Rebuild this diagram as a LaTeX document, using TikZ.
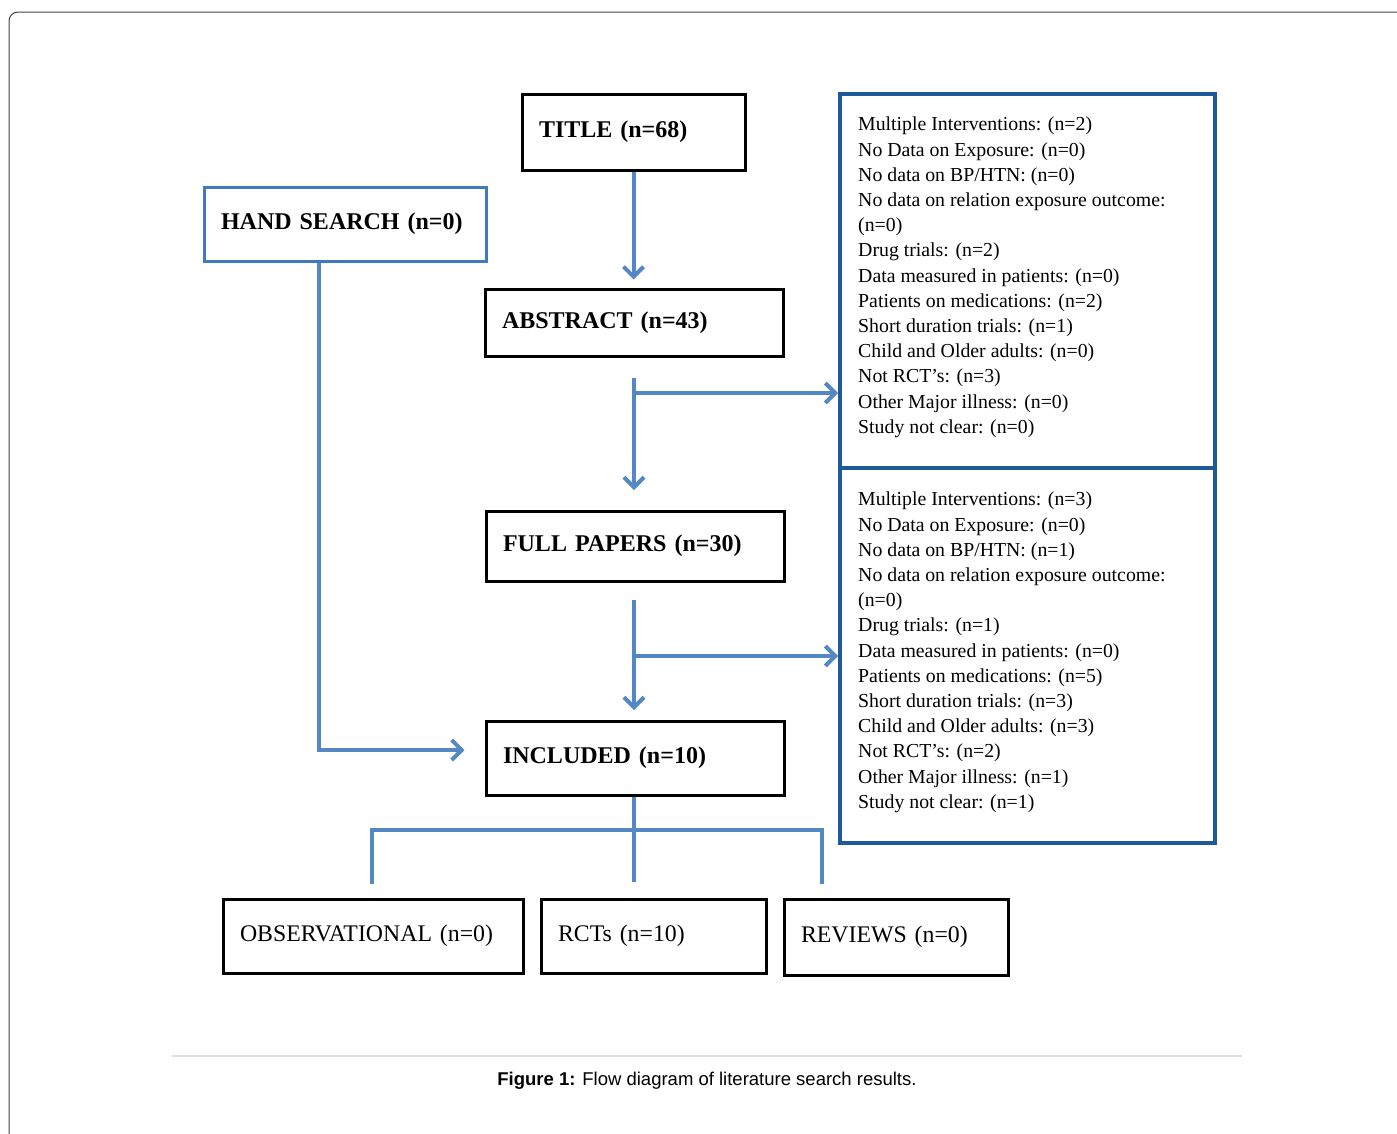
\documentclass[tikz,border=0pt]{standalone}
\usepackage{fontspec}
\setmainfont{Liberation Serif}
\newfontfamily\captionfont{Liberation Sans}
\usetikzlibrary{arrows.meta,calc}
\definecolor{arrow-blue}{RGB}{84,136,196}
\definecolor{frame-blue}{RGB}{30,90,155}
\definecolor{hand-blue}{RGB}{62,122,188}
\tikzstyle{stagebox}=[draw=black, line width=3pt, align=left, inner xsep=17pt, font=\fontsize{24}{28}\selectfont\bfseries]
\tikzstyle{studybox}=[stagebox, font=\fontsize{23.8}{28}\selectfont]
\tikzstyle{exclbox}=[draw=frame-blue, line width=3.8pt]
\tikzstyle{flowline}=[draw=arrow-blue, line width=4pt]
\tikzstyle{flowarrow}=[flowline, -{Straight Barb[length=10pt, width=20pt, line width=4pt]}]
\newcommand{\exclusionlist}[2]{
  \node[anchor=north west, align=left, inner sep=0pt,
        font=\fontsize{19.8}{25.2}\selectfont] at (#1) {#2};
}
\begin{document}
\begin{tikzpicture}[x=1pt,y=-1pt]
  \clip (0,0) rectangle (1397,1133);
  \useasboundingbox (0,0) rectangle (1397,1133);
  % page frame and caption
  \draw[black!75, line width=1pt, rounded corners=9pt] (9,12) rectangle (1430,1170);
  \draw[black!12, line width=1.5pt] (172,1056) -- (1242,1056);
  \node[font=\captionfont\fontsize{18.5}{22}\selectfont] (caption) at (707,1081)
    {\textbf{Figure 1:} Flow diagram of literature search results.};
  % stages
  \node[stagebox, text width=189pt, minimum height=76pt] (title) at (633.5,132) {TITLE (n=68)};
  \node[stagebox, draw=hand-blue, text width=248pt, minimum height=74pt] (hand) at (345,224) {HAND SEARCH (n=0)};
  \node[stagebox, text width=264pt, minimum height=67pt] (abstract) at (634,322.5) {ABSTRACT (n=43)};
  \node[stagebox, text width=264pt, minimum height=70pt] (full) at (635,546) {FULL PAPERS (n=30)};
  \node[stagebox, text width=264pt, minimum height=74pt] (included) at (635,758) {INCLUDED (n=10)};
  \node[studybox, text width=266pt, minimum height=74pt] (observational) at (373,936) {OBSERVATIONAL (n=0)};
  \node[studybox, text width=191pt, minimum height=74pt] (rcts) at (653.5,936) {RCTs (n=10)};
  \node[studybox, text width=190pt, minimum height=76pt] (reviews) at (896,937) {REVIEWS (n=0)};
  % exclusions
  \node[exclbox, minimum width=375pt, minimum height=374pt] (excltop) at (1027.5,281) {};
  \node[exclbox, minimum width=375pt, minimum height=375pt] (exclbottom) at (1027.5,655.5) {};
  \exclusionlist{858,117}{Multiple Interventions: (n=2)\\ No Data on Exposure: (n=0)\\
    No data on BP/HTN: (n=0)\\ No data on relation exposure outcome:\\ (n=0)\\
    Drug trials: (n=2)\\ Data measured in patients: (n=0)\\ Patients on medications: (n=2)\\
    Short duration trials: (n=1)\\ Child and Older adults: (n=0)\\ Not RCT’s: (n=3)\\
    Other Major illness: (n=0)\\ Study not clear: (n=0)}
  \exclusionlist{858,492}{Multiple Interventions: (n=3)\\ No Data on Exposure: (n=0)\\
    No data on BP/HTN: (n=1)\\ No data on relation exposure outcome:\\ (n=0)\\
    Drug trials: (n=1)\\ Data measured in patients: (n=0)\\ Patients on medications: (n=5)\\
    Short duration trials: (n=3)\\ Child and Older adults: (n=3)\\ Not RCT’s: (n=2)\\
    Other Major illness: (n=1)\\ Study not clear: (n=1)}
  % connectors
  \draw[flowarrow, shorten >=8pt] (title.south) -- (title.south |- abstract.north);
  \coordinate (absjoin) at (634,393);
  \coordinate (fulljoin) at (634,656);
  \draw[flowarrow] (634,378) -- (634,490);
  \draw[flowarrow] (absjoin) -- (absjoin -| excltop.west);
  \draw[flowarrow] (634,600) -- (634,710);
  \draw[flowarrow] (fulljoin) -- (fulljoin -| exclbottom.west);
  \coordinate (handturn) at (319,750);
  \draw[flowarrow] (hand.south -| handturn) -- (handturn) -- ($(handturn -| included.west)+(-20,0)$);
  \coordinate (split) at (634,830);
  \draw[flowline] (included.south -| split) -- ($(split)+(0,52)$);
  \draw[flowline] ($(observational.north)+(-1,-14)$) |- (split) -| ($(reviews.north)+(-74,-14)$);
\end{tikzpicture}
\end{document}
